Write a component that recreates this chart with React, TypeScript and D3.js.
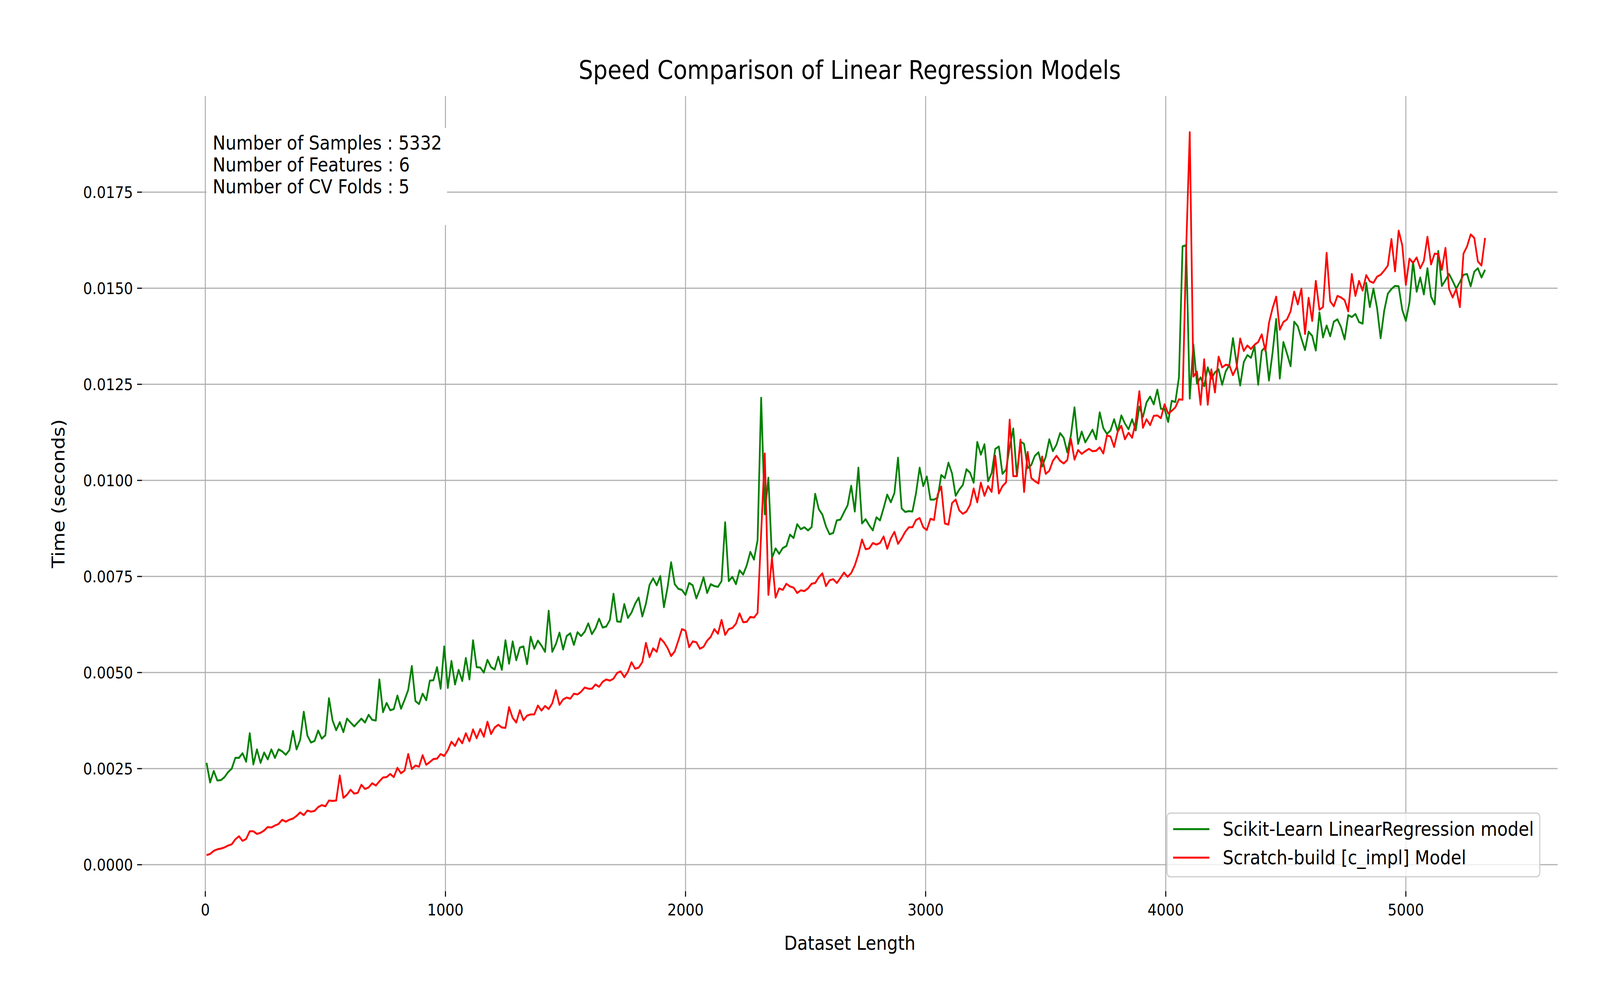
import React, { useEffect } from "react";
import * as d3 from "d3";

const X_START = 5;
const X_STEP = 15;

const sklearnTimes: number[] = [
  .00265,.00214,.00244,.00219,.0022,.00228,.00241,.0025,.00278,.00278,
  .0029,.00268,.00342,.00261,.003,.00265,.00292,.00274,.003,.00278,
  .003,.00295,.00286,.00298,.00348,.003,.00325,.00398,.00336,.00318,
  .00322,.00349,.00328,.00337,.00433,.00375,.0035,.00371,.00345,.0038,
  .0037,.0036,.0037,.0038,.0037,.0039,.00377,.00375,.00482,.00397,
  .00421,.00402,.00405,.0044,.00406,.00429,.00455,.00517,.00426,.00418,
  .00445,.00428,.00479,.0048,.00514,.00458,.00568,.0046,.0053,.00469,
  .00507,.00478,.00538,.00482,.00584,.00514,.00513,.005,.00533,.00514,
  .00508,.00541,.00507,.00584,.00523,.00581,.00532,.00565,.00568,.00522,
  .00593,.00562,.00583,.0057,
  .00554,.00661,.00554,.00574,.00604,.0056,.00595,.00602,.00572,.00605,
  .00595,.00606,.00628,.006,.00615,.0064,.00617,.0062,.00637,.00705,
  .00633,.00632,.00678,.00642,.00656,.00679,.00695,.00646,.00679,.00728,
  .00745,.00727,.00751,.0067,.00721,.00787,.0073,.00718,.00715,.00702,
  .00733,.00727,.00693,.00717,.00748,.00707,.0073,.00725,.00723,.00738,
  .00891,.00738,.00749,.0073,.00766,.00755,.00779,.00814,.00794,.00844,
  .01215,.00912,.01007,.00798,.00823,.00809,.00824,.00829,.00859,.0085,
  .00886,.00873,.00878,.0087,.00878,.00965,.00925,.00911,.0088,.0086,
  .00863,.00896,.00898,.00917,.00935,.00986,.00919,.01033,.00888,.00899,
  .00883,.0087,.00904,.00896,.00928,
  .00963,.00943,.00967,.01059,.00927,.00918,.0092,.00919,.00967,.01033,
  .00985,.0101,.0095,.0095,.00955,.01014,.01006,.01046,.01018,.0096,
  .00976,.00988,.01029,.0102,.00994,.011,.01067,.01094,.00998,.01019,
  .01082,.01088,.01017,.01028,.01087,.01135,.01011,.01101,.01095,.01032,
  .0104,.01064,.01073,.01036,.01061,.01107,.01076,.01093,.01123,.01111,
  .01073,.01117,.0119,.01095,.01127,.01099,.01115,.01132,.01107,.01177,
  .01136,.01121,.0113,.01159,.01127,.01169,.01148,.01133,.01159,.0113,
  .01192,.01165,.01203,.01218,.01198,
  .01236,.01186,.01186,.01152,.01207,.01204,.01268,.01609,.01612,.01213,
  .01354,.01252,.01268,.01245,.01294,.01265,.01281,.01289,
  .01249,.01284,.013,.0137,.01304,.01247,.01308,.01326,.01319,.01349,
  .01249,.01337,.01347,.0126,.01333,.0142,.01265,.0136,.0133,.01297,
  .01413,.01401,.01369,.01339,.01387,.01376,.01338,.01437,.01372,.01403,
  .01375,.01413,.01419,.01399,.01367,.0143,.01425,.01433,.01412,.01408,
  .01514,.01451,.01499,.01449,.0137,.01442,.01486,.01498,.01506,.01505,
  .01444,.01415,.01463,.01569,.01491,.01528,.01484,.01552,.01478,.01458,
  .01597,.01506,.01521,.01537,.01519,.01499,.01516,.01535,.01537,.01505,
  .01543,.01552,.01528,.01548,
];

const scratchTimes: number[] = [
  .00025,.00028,.00036,.0004,.00042,.00045,.0005,.00053,.00066,.00074,
  .00062,.00067,.00087,.00087,.0008,.00083,.00089,.00098,.00097,.00102,
  .00106,.00117,.00112,.00117,.0012,.00127,.00136,.00129,.00141,.00138,
  .0014,.0015,.00155,.00152,.00167,.00166,.00167,.00232,.00174,.00182,
  .00195,.00185,.00187,.00208,.00197,.00201,.00212,.00206,.00217,.00227,
  .00228,.00236,.00228,.00252,.00238,.00245,.00288,.00249,.00258,.00255,
  .00285,.0026,.00267,.00275,.00276,.00288,.00283,.00298,.0032,.00309,
  .00329,.00316,.00342,.00321,.00352,.00329,.00353,.00333,.00372,.0034,
  .00357,.00364,.00357,.00356,.0041,.00382,.0037,.00402,.00376,.00388,
  .00391,.00391,.00414,.00401,
  .00413,.00405,.0042,.00454,.00416,.0043,.00435,.00432,.00445,.00443,
  .0045,.00461,.00458,.00458,.00469,.00463,.00476,.00482,.00479,.00484,
  .00499,.00503,.00488,.00502,.00527,.0051,.00513,.00527,.00577,.0054,
  .00563,.00554,.00589,.00579,.00564,.00543,.00555,.00583,.00613,.00609,
  .00566,.00581,.00579,.00562,.00567,.00583,.00593,.00613,.00601,.00637,
  .00598,.00613,.00616,.00627,.00654,.00631,.00632,.00645,.00643,.00655,
  .00863,.0107,.00702,.00798,.00695,.00719,.00715,.00731,.00724,.00721,
  .00707,.00714,.00712,.00719,.00731,.00733,.00748,.00758,.00725,.0074,
  .00743,.00733,.00746,.0076,.00749,.00759,.00779,.00808,.00846,.00821,
  .00823,.00837,.00833,.00837,.00854,
  .00822,.00849,.00866,.00835,.00849,.00866,.00878,.00878,.00897,.00902,
  .00878,.00871,.009,.00897,.00963,.00984,.00888,.00885,.00941,.0095,
  .00922,.00913,.00919,.00936,.00979,.00943,.00994,.0096,.00985,.0097,
  .01064,.00966,.00985,.00995,.01158,.01011,.01011,.01106,.0097,.01074,
  .01006,.00998,.00992,.01062,.01017,.01025,.01051,.01064,.01051,.01044,
  .01053,.01108,.01054,.01079,.01069,.01076,.01082,.01076,.01077,.01086,
  .0107,.01117,.01114,.01087,.01127,.01142,.01107,.01124,.01111,.01152,
  .01232,.01137,.01159,.01144,.01168,
  .01169,.01162,.01198,.01174,.01181,.0119,.01211,.0121,.0160,.01906,
  .0127,.01283,.01197,.01315,.01197,.01289,.01229,.01322,
  .01294,.01301,.01299,.01274,.01294,.01369,.01337,.01351,.01342,.01353,
  .0136,.0138,.01337,.0141,.01448,.01478,.01392,.01412,.01419,.0144,
  .01491,.01458,.01499,.01381,.01475,.01415,.01519,.01444,.01451,.01592,
  .01466,.01453,.0148,.01476,.01469,.0144,.01537,.0148,.01519,.01494,
  .01534,.01518,.01514,.0153,.01535,.01546,.01559,.01628,.01544,.0165,
  .01612,.01509,.01577,.01566,.0158,.01552,.01571,.01634,.01562,.0159,
  .01589,.01548,.01605,.01498,.01476,.01498,.01451,.0159,.01609,.0164,
  .01631,.0157,.01559,.01631,
];

const xTicks = [0, 1000, 2000, 3000, 4000, 5000];
const yTicks = [0, 0.0025, 0.005, 0.0075, 0.01, 0.0125, 0.015, 0.0175];
const yTickLabels = ["0.0000", "0.0025", "0.0050", "0.0075", "0.0100", "0.0125", "0.0150", "0.0175"];
const infoLines = ["Number of Samples : 5332", "Number of Features : 6", "Number of CV Folds : 5"];
const seriesNames = ["Scikit-Learn LinearRegression model", "Scratch-build [c_impl] Model"];
const seriesColors = ["#008000", "#ff0000"];

const W = 4678, H = 2581;
const L = 415, R = 4554, T = 246, B = 2282;
const FONT = "DejaVu Sans, sans-serif";

export default function App() {
  useEffect(() => { document.body.style.margin = "0"; }, []);
  const x = d3.scaleLinear().domain([-264, 5632]).range([L, R]);
  const y = d3.scaleLinear().domain([-0.00069, 0.02]).range([B, T]);
  const line = d3.line<number>().x((_, i) => x(X_START + X_STEP * i)).y((d) => y(d));
  const series = [sklearnTimes, scratchTimes];
  const grid = "#b0b0b0";
  return (
    <svg viewBox={`0 0 ${W} ${H}`} preserveAspectRatio="none"
      style={{ position: "fixed", left: 0, top: 0, width: "100vw", height: "100vh", display: "block", background: "#fff" }}
      fontFamily={FONT}>
      {yTicks.map((t) => (
        <line key={"gy" + t} x1={L} x2={R} y1={y(t)} y2={y(t)} stroke={grid} strokeWidth={3} />
      ))}
      {xTicks.map((t) => (
        <line key={"gx" + t} x1={x(t)} x2={x(t)} y1={T} y2={B} stroke={grid} strokeWidth={3} />
      ))}
      {yTicks.map((t, i) => (
        <g key={"ty" + t}>
          <line x1={L - 14} x2={L} y1={y(t)} y2={y(t)} stroke="#000" strokeWidth={3} />
          <text x={L - 26} y={y(t)} dy="0.35em" textAnchor="end" fontSize={41.7}>{yTickLabels[i]}</text>
        </g>
      ))}
      {xTicks.map((t) => (
        <g key={"tx" + t}>
          <line x1={x(t)} x2={x(t)} y1={B} y2={B + 14} stroke="#000" strokeWidth={3} />
          <text x={x(t)} y={B + 62} textAnchor="middle" fontSize={41.7}>{t}</text>
        </g>
      ))}
      {series.map((s, i) => (
        <path key={"s" + i} d={line(s) || ""} fill="none" stroke={seriesColors[i]} strokeWidth={5} strokeLinejoin="round" />
      ))}
      <rect x={604} y={328} width={703} height={248} fill="#fff" />
      {infoLines.map((t, i) => (
        <text key={t} x={622} y={383 + i * 56} fontSize={50}>{t}</text>
      ))}
      <text x={(L + R) / 2} y={202} textAnchor="middle" fontSize={66.7}>Speed Comparison of Linear Regression Models</text>
      <text x={(L + R) / 2} y={2432} textAnchor="middle" fontSize={50}>Dataset Length</text>
      <text transform={`translate(188,${(T + B) / 2}) rotate(-90)`} textAnchor="middle" fontSize={50}>Time (seconds)</text>
      <rect x={3412} y={2082} width={1090} height={163} rx={10} fill="#fff" fillOpacity={0.8} stroke="#cccccc" strokeWidth={3} />
      {seriesNames.map((n, i) => (
        <g key={n}>
          <line x1={3430} x2={3536} y1={2123 + i * 73} y2={2123 + i * 73} stroke={seriesColors[i]} strokeWidth={5} />
          <text x={3575} y={2140 + i * 73} fontSize={50}>{n}</text>
        </g>
      ))}
    </svg>
  );
}
